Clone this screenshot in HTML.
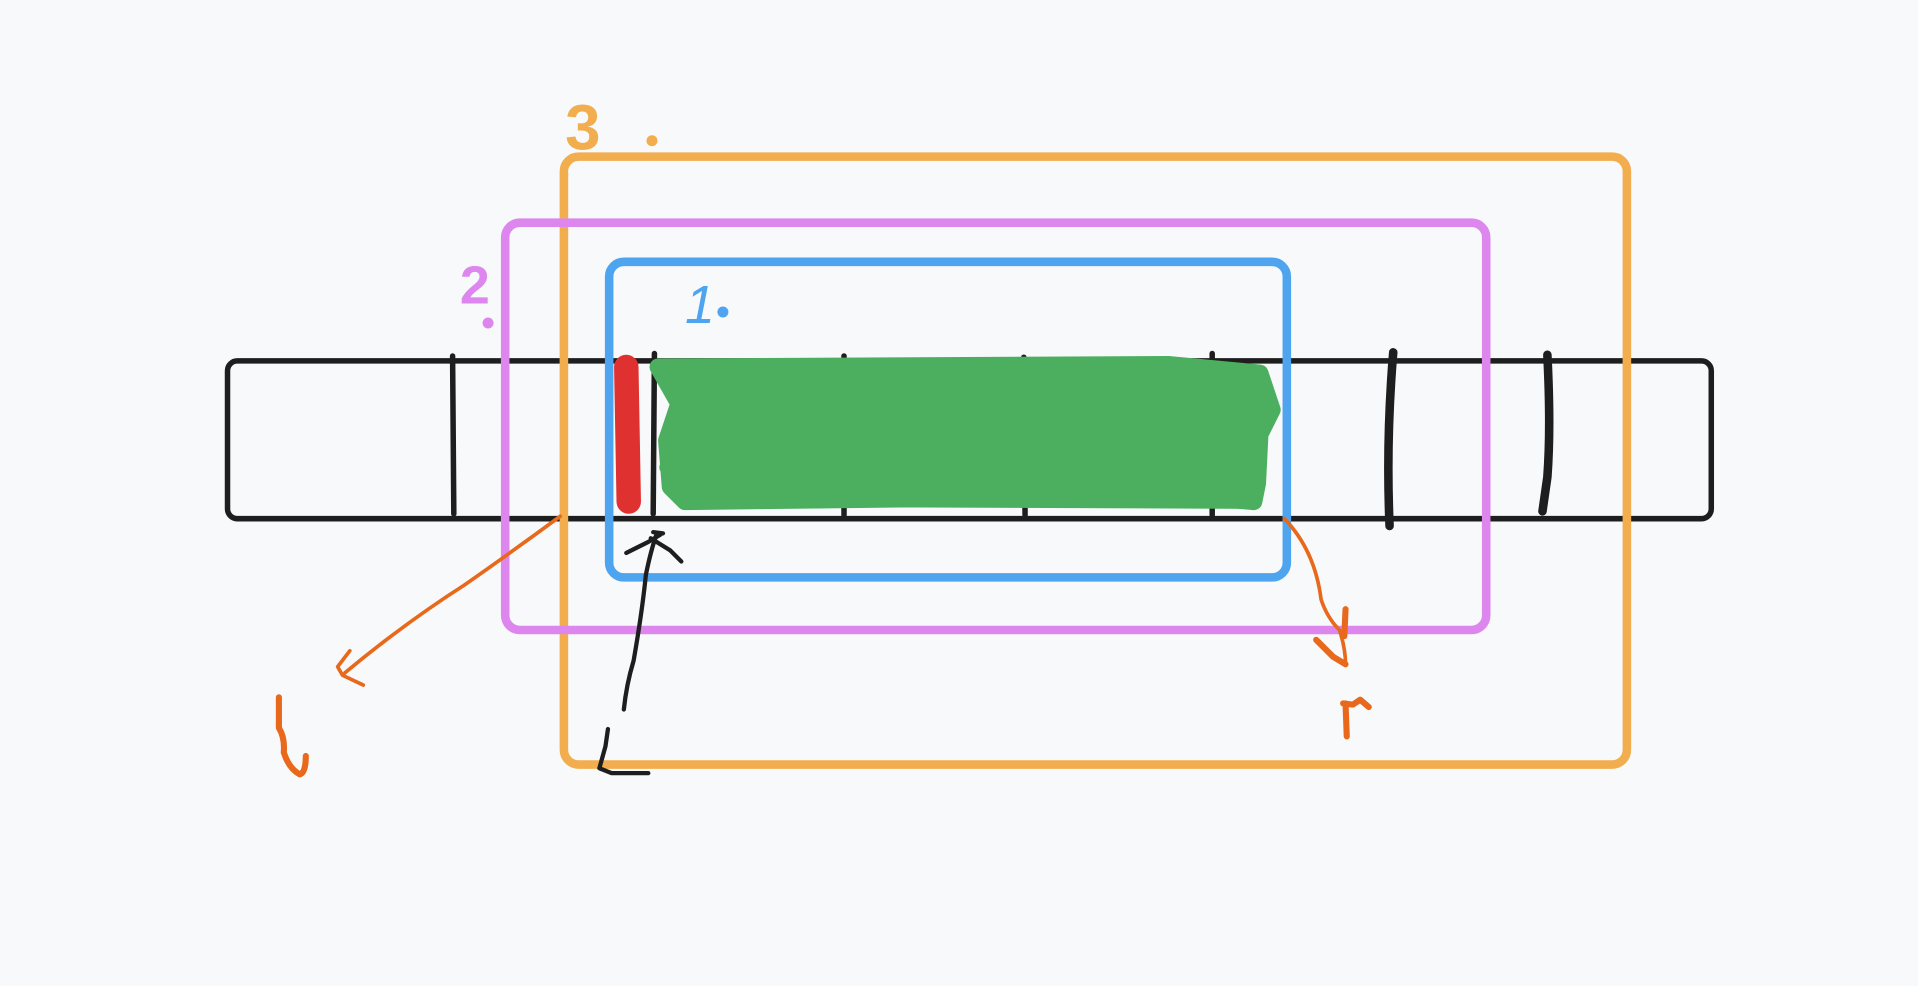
<!DOCTYPE html>
<html><head><meta charset="utf-8"><style>
html,body{margin:0;padding:0;background:#f8f9fb;width:1918px;height:986px;overflow:hidden}
svg{display:block}
</style></head><body>
<svg width="1918" height="986" viewBox="0 0 1568 806" xmlns="http://www.w3.org/2000/svg" fill="none" stroke-linecap="round" stroke-linejoin="round">
<rect x="0" y="0" width="1568" height="806" fill="#f8f9fb" stroke="none"/>
<rect x="186" y="295" width="1213" height="129" rx="8" stroke="#1e1e1e" stroke-width="4.5"/>
<g stroke="#1e1e1e" stroke-width="4.5">
<path d="M370 291 L371 420"/>
<path d="M535 289 L534 420"/>
<path d="M690 291 L690 421"/>
<path d="M837 292 L838 421"/>
<path d="M991 289 L991 421"/>
<path d="M1139 288 Q1133 360 1136 430" stroke-width="7"/>
<path d="M1265 290 Q1268 350 1265 390 L1261 418" stroke-width="7"/>
</g>
<path d="M538 300 L955 298 L1030 305 L1040 335 L1030 355 L1028 395 L1025 410 L970 405 L560 410 L548 398 L545 360 L555 330 Z" fill="#4caf5f" stroke="#4caf5f" stroke-width="14"/>
<g stroke="#4caf5f" stroke-width="12">
<path d="M540 300 L960 300"/><path d="M560 318 L1030 318"/><path d="M565 338 L1035 338"/><path d="M560 355 L960 355"/><path d="M545 368 L1020 368"/><path d="M545 382 L1025 385"/><path d="M558 398 L1025 398"/><path d="M562 408 L1025 410"/>
</g>
<path d="M512 300 L514 410" stroke="#e03131" stroke-width="20"/>
<rect x="461" y="128" width="869" height="497" rx="12" stroke="#f2ae4e" stroke-width="7"/>
<rect x="413" y="182" width="802" height="333" rx="12" stroke="#dd86ee" stroke-width="7"/>
<rect x="498" y="214" width="554" height="258" rx="12" stroke="#4ea4ee" stroke-width="7"/>
<g stroke="#e8691c" stroke-width="3">
<path d="M458 422 Q420 450 380 478 Q330 510 282 550"/>
<path d="M286 532 L276 545 L280 552 L297 560"/>
<path d="M1050 424 Q1075 450 1080 490 Q1085 505 1095 515 Q1100 530 1100 543"/>
</g>
<g stroke="#e8691c" stroke-width="5">
<path d="M1076 523 L1090 537 L1100 543"/><path d="M1100 498 L1099 520"/>
<path d="M228 570 L228 595 Q233 603 232 615 Q236 628 245 633 Q250 632 250 618"/>
<path d="M1100 575 L1101 602"/><path d="M1098 575 L1106 576 L1112 572 L1119 578"/>
</g>
<g stroke="#1e1e1e" stroke-width="3.5">
<path d="M510 580 Q512 560 518 540 Q525 500 528 470 Q532 450 537 436"/>
<path d="M512 452 L530 443 L540 437"/><path d="M532 440 L548 450 L557 459"/><path d="M534 435 L542 436"/>
<path d="M497 596 L495 610 L490 628 L500 632 L530 632"/>
</g>
<text x="462" y="122" font-family="Liberation Sans, sans-serif" font-size="52" font-weight="bold" fill="#f2ae4e" stroke="none">3</text>
<circle cx="533" cy="115" r="4.5" fill="#f2ae4e" stroke="none"/>
<text x="376" y="248" font-family="Liberation Sans, sans-serif" font-size="44" font-weight="bold" fill="#dd86ee" stroke="none">2</text>
<circle cx="399" cy="264" r="4.5" fill="#dd86ee" stroke="none"/>
<text x="560" y="264" font-family="Liberation Sans, sans-serif" font-size="44" font-style="italic" fill="#4ea4ee" stroke="none">1</text>
<circle cx="591" cy="255" r="4.5" fill="#4ea4ee" stroke="none"/>
</svg>
</body></html>
